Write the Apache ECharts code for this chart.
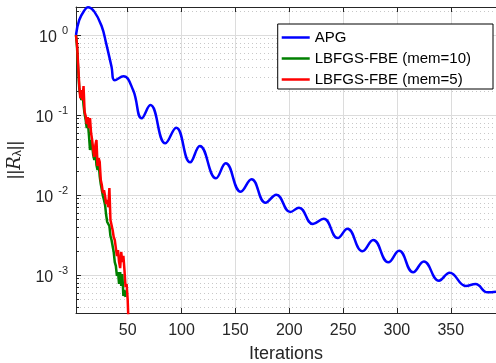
<!DOCTYPE html>
<html>
<head>
<meta charset="utf-8">
<script src="https://cdn.jsdelivr.net/npm/echarts@6/dist/echarts.min.js"></script>
<style>
  html, body { margin: 0; padding: 0; background: #fff; }
  #chart { width: 496px; height: 363px; }
</style>
</head>
<body>
<div id="chart"></div>
<script>
// APG residual (mostly at its bumps)
const apgIter = [2, 5, 10, 13, 19, 26, 30, 35, 38, 46, 55, 63, 71, 85, 95, 108, 117, 132, 141,
  155, 165, 178, 188, 201, 209, 222, 232, 245, 254, 268, 278, 292, 302, 315, 325, 339, 349,
  364, 373, 384, 392]
const apgValue = [1.0, 1.54, 2.05, 2.22, 1.96, 1.27, 0.787, 0.402, 0.272, 0.305, 0.205, 0.091,
  0.133, 0.0443, 0.0694, 0.0256, 0.041, 0.0162, 0.0249, 0.011, 0.0157, 0.00801, 0.0101,
  0.00613, 0.00694, 0.00434, 0.00506, 0.0029, 0.00379, 0.00198, 0.00274, 0.00144, 0.00201,
  0.00108, 0.00148, 0.000849, 0.00107, 0.000729, 0.000772, 0.000608, 0.000618]

// LBFGS-FBE, mem=10
const mem10Iter = [2, 3, 4, 5, 6, 7, 8, 9, 10, 11, 12, 13, 14, 15, 16, 17, 18, 19, 20, 21, 22,
  23, 24, 25, 26, 27, 28, 29, 30, 31, 32, 33, 34, 35, 36, 37, 38, 39, 40, 41, 42, 43, 44, 45,
  46, 47, 48]
const mem10Value = [1.0, 0.688, 0.365, 0.218, 0.178, 0.154, 0.194, 0.133, 0.103, 0.0866, 0.0688,
  0.0818, 0.0562, 0.0365, 0.0487, 0.0422, 0.0316, 0.0274, 0.0365, 0.0237, 0.0205, 0.0251,
  0.0173, 0.0137, 0.0115, 0.00972, 0.00866, 0.0075, 0.00562, 0.0046, 0.00487, 0.0041,
  0.00307, 0.00274, 0.0023, 0.00194, 0.00145, 0.0013, 0.000972, 0.00109, 0.000772, 0.00109,
  0.000729, 0.00103, 0.000546, 0.000649, 0.000531]

// LBFGS-FBE, mem=5
const mem5Iter = [2, 3, 4, 5, 6, 7, 8, 9, 10, 11, 12, 13, 14, 15, 16, 17, 18, 19, 20, 21, 22,
  23, 24, 25, 26, 27, 28, 29, 30, 31, 32, 33, 34, 35, 36, 37, 38, 39, 40, 41, 42, 43, 44, 45,
  46, 47, 48, 49, 50, 51]
const mem5Value = [1.0, 0.75, 0.422, 0.237, 0.163, 0.205, 0.154, 0.23, 0.109, 0.0972, 0.0772,
  0.0944, 0.0688, 0.0917, 0.0596, 0.0487, 0.0365, 0.0299, 0.0422, 0.0487, 0.023, 0.029,
  0.0259, 0.0154, 0.0133, 0.0106, 0.0115, 0.00972, 0.00772, 0.00866, 0.00708, 0.0122,
  0.00487, 0.0046, 0.00365, 0.00299, 0.00274, 0.00218, 0.00173, 0.00205, 0.00145, 0.00122,
  0.00194, 0.00145, 0.00173, 0.00115, 0.000708, 0.000772, 0.000487, 0.000205]

const xMin = 2
const xMax = 392
const yMin = 3.35e-4
const yMax = 2.24

const axisColor = '#262626'
const font = 'Liberation Sans, Arial, Helvetica, sans-serif'

const zip = (xs, ys) => xs.map((x, i) => [x, ys[i]])

const chart = echarts.init(document.getElementById('chart'))

const option = {
  animation: false,
  textStyle: { fontFamily: font },
  grid: { left: 76, right: 0, top: 7, bottom: 50, outerBoundsMode: 'none' },
  legend: {
    orient: 'vertical',
    right: 3,
    top: 24,
    padding: [6, 22, 2, 4],
    itemGap: 6,
    icon: 'rect',
    itemWidth: 28,
    itemHeight: 2.5,
    borderColor: '#000',
    borderWidth: 1,
    backgroundColor: '#fff',
    textStyle: { fontSize: 15, color: '#000', fontFamily: font },
    data: ['APG', 'LBFGS-FBE (mem=10)', 'LBFGS-FBE (mem=5)']
  },
  xAxis: [{
    type: 'value',
    min: xMin,
    max: xMax,
    splitNumber: 8,
    name: 'Iterations',
    nameLocation: 'middle',
    nameGap: 32,
    nameTextStyle: { fontSize: 18, color: axisColor },
    axisLine: { lineStyle: { color: axisColor } },
    axisTick: { inside: true, length: 5, lineStyle: { color: axisColor } },
    axisLabel: { fontSize: 16, color: axisColor, margin: 10, showMinLabel: false, showMaxLabel: false },
    splitLine: { lineStyle: { color: '#dcdcdc', width: 1 } }
  }, {
    type: 'value',
    position: 'top',
    min: xMin,
    max: xMax,
    splitNumber: 8,
    axisLine: { lineStyle: { color: axisColor } },
    axisTick: { inside: true, length: 5, lineStyle: { color: axisColor } },
    axisLabel: { show: false },
    splitLine: { show: false }
  }],
  yAxis: {
    type: 'log',
    logBase: 10,
    min: yMin,
    max: yMax,
    name: '{n|||}{r|R}{s|λ}{n|||}',
    nameLocation: 'middle',
    nameGap: 52,
    nameTextStyle: {
      color: axisColor,
      rich: {
        n: { fontSize: 18, color: axisColor },
        r: { fontSize: 18, fontStyle: 'italic', fontFamily: 'DejaVu Serif, serif', color: axisColor },
        s: { fontSize: 12, color: axisColor, padding: [6, 0, 0, 0] }
      }
    },
    axisLine: { show: true, lineStyle: { color: axisColor } },
    axisTick: { inside: true, length: 5, lineStyle: { color: axisColor } },
    minorTick: { show: true, splitNumber: 9, length: 3, lineStyle: { color: axisColor } },
    axisLabel: {
      margin: 8,
      showMinLabel: false,
      showMaxLabel: false,
      formatter: v => '{b|10}{e|' + Math.round(Math.log10(v)) + '}',
      rich: {
        b: { fontSize: 16, color: axisColor, padding: [6, 0, 0, 0] },
        e: { fontSize: 11, color: axisColor, padding: [0, 0, 9, 5] }
      }
    },
    splitLine: { lineStyle: { color: '#dcdcdc', width: 1 } },
    minorSplitLine: { show: true, lineStyle: { color: '#c8c8c8', type: [1, 3] } }
  },
  series: [{
    name: 'APG',
    type: 'line',
    data: zip(apgIter, apgValue),
    symbol: 'none',
    smooth: 0.45,
    lineStyle: { color: '#0000ff', width: 2.5 },
    itemStyle: { color: '#0000ff' }
  }, {
    name: 'LBFGS-FBE (mem=10)',
    type: 'line',
    data: zip(mem10Iter, mem10Value),
    symbol: 'none',
    lineStyle: { color: '#008000', width: 2.5 },
    itemStyle: { color: '#008000' }
  }, {
    name: 'LBFGS-FBE (mem=5)',
    type: 'line',
    data: zip(mem5Iter, mem5Value),
    symbol: 'none',
    lineStyle: { color: '#ff0000', width: 2.5 },
    itemStyle: { color: '#ff0000' }
  }]
}

chart.setOption(option)
</script>
</body>
</html>
